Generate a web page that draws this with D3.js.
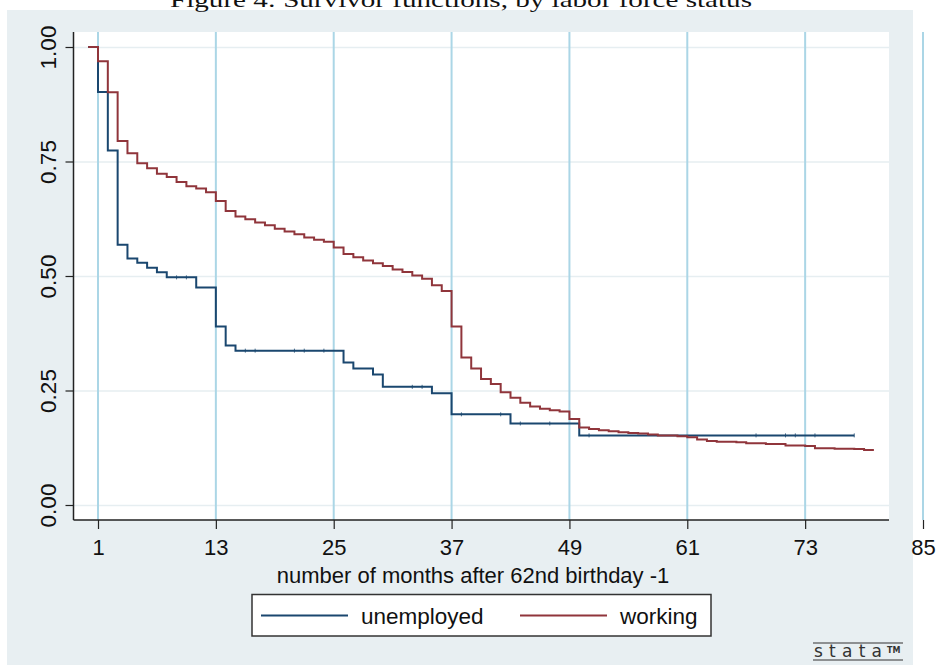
<html>

<head>
  <title>Survivor functions, by labor force status</title>
  <meta charset="UTF-8">
  <script src="https://d3js.org/d3.v7.min.js"></script>
</head>
<style>
  body {
    margin: 0;
    background: white;
  }

  .gridlines line {
    stroke: #e6eef1;
    stroke-width: 1.5;
  }

  .gridlines .domain {
    stroke: none;
  }
</style>

<body>

  <svg id="chart" width="941" height="665"></svg>

  <script>
    // months after 62nd birthday at which each step starts (working)
    const workTimes = [0, 1, 2, 3, 4, 5, 6, 7, 8, 9, 10, 11, 12, 13, 14, 15, 16, 17, 18, 19, 20, 21, 22, 23, 24, 25, 26, 27, 28, 29, 30, 31, 32, 33, 34, 35, 36, 37, 38, 39, 40, 41, 42, 43, 44, 45, 46, 47, 48, 49, 50, 51, 52, 53, 54, 55, 56, 57, 58, 60, 61, 62, 63, 64, 66, 67, 69, 71, 73, 74, 76, 78, 79];
    const workSurv = [1.000, 0.969, 0.901, 0.795, 0.768, 0.746, 0.735, 0.723, 0.716, 0.705, 0.696, 0.691, 0.683, 0.664, 0.642, 0.630, 0.624, 0.617, 0.611, 0.603, 0.597, 0.591, 0.584, 0.579, 0.575, 0.562, 0.548, 0.541, 0.534, 0.528, 0.522, 0.514, 0.509, 0.501, 0.494, 0.480, 0.467, 0.390, 0.322, 0.298, 0.275, 0.264, 0.246, 0.234, 0.223, 0.215, 0.210, 0.207, 0.204, 0.188, 0.169, 0.166, 0.163, 0.161, 0.159, 0.157, 0.156, 0.154, 0.152, 0.150, 0.148, 0.143, 0.140, 0.138, 0.137, 0.135, 0.133, 0.130, 0.129, 0.124, 0.123, 0.122, 0.120];
    const workEnd = 80;

    // unemployed
    const unempTimes = [0, 1, 2, 3, 4, 5, 6, 7, 8, 11, 13, 14, 15, 26, 27, 29, 30, 35, 37, 43, 50];
    const unempSurv = [1.000, 0.902, 0.774, 0.568, 0.538, 0.529, 0.518, 0.508, 0.497, 0.475, 0.390, 0.348, 0.337, 0.311, 0.298, 0.285, 0.258, 0.244, 0.198, 0.178, 0.152];
    const unempEnd = 78;
    // censored observations shown as small ticks
    const unempCensor = [9, 10, 16, 17, 21, 22, 24, 33, 34, 38, 42, 44, 47, 51, 68, 71, 72, 74, 78];

    const xTicks = [1, 13, 25, 37, 49, 61, 73, 85];
    const yTicks = [0, 0.25, 0.5, 0.75, 1];

    const seriesNames = ["unemployed", "working"];
    const seriesColors = ["#1a476f", "#90353b"];

    const svg = d3.select("svg#chart");

    // outer graph region (stata bluish gray)
    svg.append("rect")
      .attr("x", 7).attr("y", 10)
      .attr("width", 906).attr("height", 655)
      .attr("fill", "#e8eff2");

    // title, cut off at the top like the original
    svg.append("text")
      .attr("x", 170).attr("y", 7)
      .attr("font-family", "Liberation Serif, serif")
      .attr("font-size", "22px")
      .attr("textLength", 582)
      .attr("lengthAdjust", "spacingAndGlyphs")
      .attr("fill", "#111")
      .text("Figure 4: Survivor functions, by labor force status");

    // plot area
    const plotLeft = 73.5, plotRight = 889, plotTop = 32, plotBottom = 520;

    svg.append("rect")
      .attr("x", plotLeft).attr("y", plotTop)
      .attr("width", plotRight - plotLeft).attr("height", plotBottom - plotTop)
      .attr("fill", "white");

    // scales
    const xScale = d3.scaleLinear().domain([1, 85]).range([98, 923]);
    const yScale = d3.scaleLinear().domain([0, 1]).range([505, 47]);

    // horizontal gridlines
    let leftGridlines = d3.axisLeft(yScale).tickValues(yTicks).tickFormat('').tickSize(-(plotRight - plotLeft));
    svg.append('g').attr('class', 'gridlines')
      .attr("transform", `translate(${plotLeft},0)`)
      .call(leftGridlines);

    // vertical gridlines (light blue, the last one sits outside the plot)
    svg.append("g").selectAll("line.vgrid").data(xTicks)
      .join("line").attr("class", "vgrid")
      .attr("x1", d => xScale(d)).attr("x2", d => xScale(d))
      .attr("y1", plotTop).attr("y2", plotBottom)
      .attr("stroke", "#abd6e6")
      .attr("stroke-width", 2);

    // step lines
    const line = d3.line()
      .x(d => xScale(d[0]))
      .y(d => yScale(d[1]))
      .curve(d3.curveStepAfter);

    const makePoints = function (times, surv, end) {
      let pts = times.map((t, i) => [t, surv[i]]);
      pts.push([end, surv[surv.length - 1]]);
      return pts;
    };

    const unempPts = makePoints(unempTimes, unempSurv, unempEnd);
    const workPts = makePoints(workTimes, workSurv, workEnd);

    svg.append("path")
      .datum(unempPts)
      .attr("d", line)
      .attr("fill", "none")
      .attr("stroke", seriesColors[0])
      .attr("stroke-width", 2);

    // censoring ticks on the unemployed curve
    const survAt = function (t) {
      let v = unempSurv[0];
      unempTimes.forEach((s, i) => { if (s <= t) v = unempSurv[i]; });
      return v;
    };

    svg.append("g").selectAll("line.censor").data(unempCensor)
      .join("line").attr("class", "censor")
      .attr("x1", d => xScale(d)).attr("x2", d => xScale(d))
      .attr("y1", d => yScale(survAt(d)) - 2)
      .attr("y2", d => yScale(survAt(d)) + 2)
      .attr("stroke", seriesColors[0])
      .attr("stroke-opacity", 0.8)
      .attr("stroke-width", 1);

    svg.append("path")
      .datum(workPts)
      .attr("d", line)
      .attr("fill", "none")
      .attr("stroke", seriesColors[1])
      .attr("stroke-width", 2);

    // y axis
    let leftAxis = d3.axisLeft(yScale).tickValues(yTicks).tickFormat(d3.format(".2f")).tickSize(8).tickPadding(0);
    let leftG = svg.append("g")
      .attr("transform", `translate(${plotLeft},0)`)
      .call(leftAxis);
    leftG.select(".domain").remove();
    leftG.selectAll(".tick line").attr("stroke", "#222").attr("stroke-width", 1.2);
    leftG.selectAll(".tick text")
      .attr("transform", "rotate(-90)")
      .attr("x", 0).attr("y", -17.5)
      .attr("dy", 0)
      .attr("text-anchor", "middle")
      .attr("font-family", "Liberation Sans, Arial, sans-serif")
      .attr("font-size", "22.5px")
      .attr("fill", "#111");
    svg.append("line")
      .attr("x1", plotLeft).attr("x2", plotLeft)
      .attr("y1", plotTop).attr("y2", plotBottom)
      .attr("stroke", "#222").attr("stroke-width", 1.5);

    // x axis
    let bottomAxis = d3.axisBottom(xScale).tickValues(xTicks).tickSize(9).tickPadding(0);
    let bottomG = svg.append("g")
      .attr("transform", `translate(0,${plotBottom})`)
      .call(bottomAxis);
    bottomG.select(".domain").remove();
    bottomG.selectAll(".tick line").attr("stroke", "#222").attr("stroke-width", 1.2);
    bottomG.selectAll(".tick text")
      .attr("y", 35).attr("dy", 0)
      .attr("font-family", "Liberation Sans, Arial, sans-serif")
      .attr("font-size", "22px")
      .attr("fill", "#111");
    svg.append("line")
      .attr("x1", plotLeft).attr("x2", plotRight)
      .attr("y1", plotBottom).attr("y2", plotBottom)
      .attr("stroke", "#222").attr("stroke-width", 1.5);

    // x axis title
    svg.append("text")
      .attr("x", 473).attr("y", 583)
      .attr("text-anchor", "middle")
      .attr("font-family", "Liberation Sans, Arial, sans-serif")
      .attr("font-size", "22px")
      .attr("fill", "#111")
      .text("number of months after 62nd birthday -1");

    // legend
    const legend = svg.append("g").attr("id", "legend");
    legend.append("rect")
      .attr("x", 252).attr("y", 594.5)
      .attr("width", 459).attr("height", 41.5)
      .attr("fill", "white")
      .attr("stroke", "#333")
      .attr("stroke-width", 1.5);

    const legendX = [261, 520];
    legend.selectAll("line.key").data(seriesNames)
      .join("line").attr("class", "key")
      .attr("x1", (d, i) => legendX[i]).attr("x2", (d, i) => legendX[i] + 87)
      .attr("y1", 615.5).attr("y2", 615.5)
      .attr("stroke", (d, i) => seriesColors[i])
      .attr("stroke-width", 2);

    legend.selectAll("text.key").data(seriesNames)
      .join("text").attr("class", "key")
      .attr("x", (d, i) => legendX[i] + 100).attr("y", 624)
      .attr("font-family", "Liberation Sans, Arial, sans-serif")
      .attr("font-size", "22.5px")
      .attr("fill", "#111")
      .text(d => d);

    // stata logo
    const logo = svg.append("g").attr("id", "logo");
    logo.append("line").attr("x1", 813).attr("x2", 903).attr("y1", 643).attr("y2", 643)
      .attr("stroke", "#333").attr("stroke-width", 1.2);
    logo.append("line").attr("x1", 813).attr("x2", 903).attr("y1", 660).attr("y2", 660)
      .attr("stroke", "#333").attr("stroke-width", 1.2);
    logo.append("text")
      .attr("x", 814).attr("y", 657)
      .attr("font-family", "DejaVu Sans, sans-serif")
      .attr("font-size", "17px")
      .attr("textLength", 68)
      .attr("lengthAdjust", "spacing")
      .attr("fill", "#333")
      .text("stata");
    logo.append("text")
      .attr("x", 887).attr("y", 653)
      .attr("font-family", "DejaVu Sans, sans-serif")
      .attr("font-size", "8px")
      .attr("font-weight", "bold")
      .attr("fill", "#333")
      .text("TM");

  </script>

</body>

</html>
